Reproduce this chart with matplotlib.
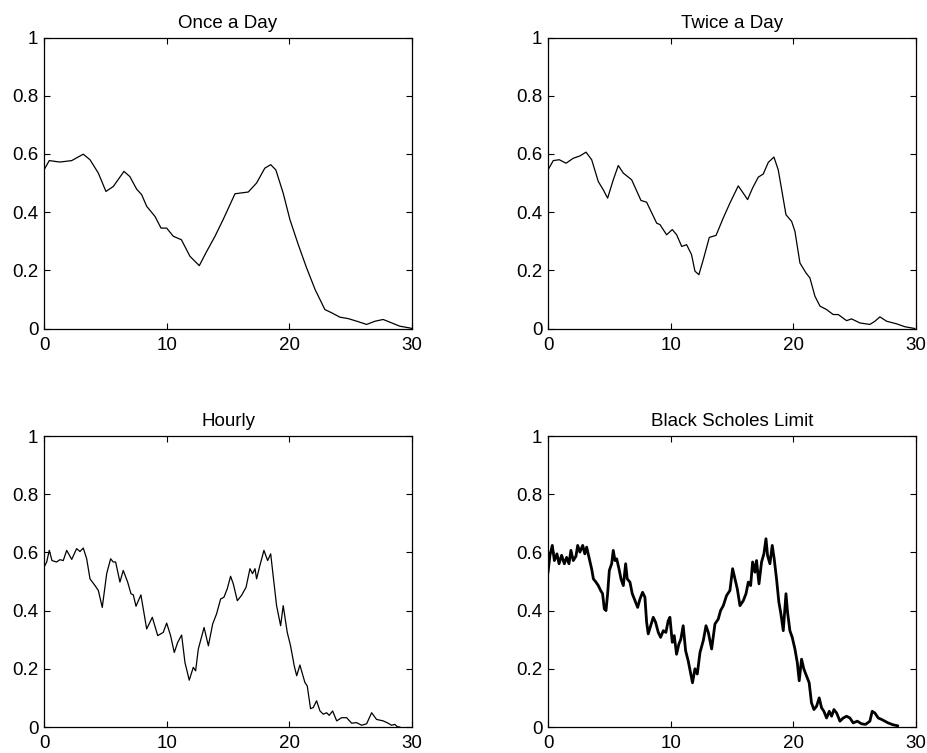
import matplotlib
matplotlib.use("Agg")
import matplotlib.pyplot as plt

plt.rcParams['font.family'] = ['Liberation Sans', 'DejaVu Sans']

# ---- once a day ----
day1_x = [0, 0.43, 1.3, 2.26, 3.2, 3.75, 4.43, 5.05, 5.65, 6.52, 7.0, 7.55, 7.96,
          8.37, 9.05, 9.54, 10.0, 10.54, 11.2, 11.9, 12.66, 13.2, 13.94, 14.6,
          15.57, 16.65, 17.33, 18.0, 18.48, 18.9, 19.5, 20.05, 20.73, 21.41, 22.1,
          22.9, 23.45, 24.12, 24.8, 25.5, 26.3, 26.98, 27.65, 28.3, 29.0, 29.8, 30]
day1_y = [0.545, 0.577, 0.572, 0.577, 0.599, 0.58, 0.534, 0.471, 0.488, 0.54, 0.522,
          0.479, 0.46, 0.42, 0.385, 0.345, 0.345, 0.317, 0.305, 0.248, 0.216, 0.26,
          0.317, 0.374, 0.463, 0.469, 0.5, 0.551, 0.563, 0.545, 0.465, 0.374, 0.288,
          0.208, 0.134, 0.065, 0.054, 0.039, 0.034, 0.025, 0.014, 0.025, 0.031,
          0.02, 0.008, 0.002, 0.0]

# ---- twice a day ----
day2_x = [0, 0.43, 0.92, 1.47, 2.06, 2.6, 3.1, 3.56, 4.1, 4.5, 4.86, 5.32, 5.73,
          6.14, 6.82, 7.58, 8.04, 8.86, 9.13, 9.67, 10.13, 10.49, 10.9, 11.3, 11.7,
          11.98, 12.3, 12.66, 13.15, 13.7, 14.29, 14.83, 15.51, 15.92, 16.27, 16.68,
          17.14, 17.55, 17.96, 18.42, 18.77, 19.05, 19.4, 19.86, 20.13, 20.54, 21.03,
          21.35, 21.76, 22.17, 22.71, 23.25, 23.66, 24.34, 24.75, 25.43, 26.24, 26.65,
          27.06, 27.6, 28.42, 29.1, 29.9]
day2_y = [0.545, 0.577, 0.58, 0.568, 0.585, 0.593, 0.606, 0.58, 0.505, 0.477, 0.448,
          0.511, 0.56, 0.534, 0.511, 0.44, 0.434, 0.362, 0.357, 0.322, 0.34, 0.322,
          0.282, 0.288, 0.254, 0.197, 0.185, 0.237, 0.313, 0.32, 0.38, 0.431, 0.49,
          0.465, 0.443, 0.483, 0.52, 0.531, 0.571, 0.589, 0.545, 0.477, 0.391, 0.368,
          0.334, 0.225, 0.191, 0.174, 0.111, 0.077, 0.065, 0.048, 0.048, 0.027, 0.033,
          0.019, 0.014, 0.025, 0.04, 0.025, 0.016, 0.006, 0.0]

# ---- hourly ----
hour_x = [0, 0.22, 0.43, 0.65, 1.03, 1.3, 1.57, 1.85, 2.26, 2.66, 2.93, 3.2, 3.48,
          3.75, 4.16, 4.43, 4.75, 5.11, 5.43, 5.65, 5.84, 6.19, 6.46, 6.82, 7.09,
          7.28, 7.5, 7.9, 8.37, 8.83, 9.27, 9.72, 10.0, 10.32, 10.62, 10.9, 11.22,
          11.49, 11.84, 12.17, 12.36, 12.58, 13.05, 13.4, 13.75, 14.07, 14.4, 14.67,
          14.94, 15.21, 15.43, 15.76, 16.1, 16.47, 16.79, 17.0, 17.2, 17.33, 17.6,
          17.93, 18.23, 18.48, 18.74, 18.96, 19.29, 19.5, 19.83, 20.1, 20.4, 20.6,
          20.86, 21.27, 21.46, 21.73, 21.95, 22.22, 22.5, 22.77, 23.04, 23.25, 23.53,
          23.86, 24.26, 24.67, 25.08, 25.48, 25.89, 26.3, 26.71, 27.11, 27.65, 28.06,
          28.33, 28.6, 28.8, 29.0]
hour_y = [0.549, 0.567, 0.607, 0.572, 0.567, 0.575, 0.572, 0.607, 0.576, 0.613, 0.603,
          0.615, 0.578, 0.509, 0.486, 0.469, 0.411, 0.527, 0.578, 0.567, 0.567, 0.498,
          0.538, 0.498, 0.458, 0.454, 0.415, 0.454, 0.337, 0.377, 0.314, 0.325, 0.357,
          0.314, 0.256, 0.291, 0.316, 0.222, 0.161, 0.205, 0.193, 0.268, 0.342, 0.279,
          0.354, 0.389, 0.44, 0.446, 0.475, 0.518, 0.492, 0.434, 0.452, 0.48, 0.544,
          0.527, 0.544, 0.509, 0.555, 0.607, 0.572, 0.595, 0.498, 0.417, 0.348, 0.417,
          0.325, 0.279, 0.21, 0.176, 0.213, 0.153, 0.141, 0.063, 0.067, 0.09, 0.055,
          0.044, 0.049, 0.04, 0.055, 0.021, 0.032, 0.032, 0.013, 0.015, 0.006, 0.011,
          0.049, 0.026, 0.021, 0.013, 0.006, 0.009, 0.001, 0.0]

# ---- black scholes limit ----
bs_x = [0, 0.16, 0.35, 0.52, 0.73, 0.9, 1.11, 1.33, 1.52, 1.71, 1.87, 2.06, 2.28,
        2.42, 2.6, 2.83, 3.0, 3.15, 3.37, 3.56, 3.7, 3.91, 4.1, 4.29, 4.45, 4.59,
        4.73, 4.86, 5.0, 5.19, 5.32, 5.46, 5.6, 5.79, 5.95, 6.14, 6.33, 6.46, 6.68,
        6.87, 7.09, 7.31, 7.5, 7.71, 7.9, 8.04, 8.17, 8.37, 8.58, 8.77, 8.99, 9.18,
        9.4, 9.61, 9.8, 9.94, 10.13, 10.29, 10.48, 10.67, 10.83, 11.02, 11.22, 11.43,
        11.62, 11.78, 11.98, 12.17, 12.39, 12.66, 12.88, 13.07, 13.34, 13.61, 13.88,
        14.07, 14.29, 14.56, 14.83, 15.05, 15.24, 15.43, 15.65, 15.92, 16.14, 16.33,
        16.52, 16.68, 16.87, 17.0, 17.2, 17.41, 17.6, 17.77, 17.9, 18.09, 18.28, 18.44,
        18.63, 18.82, 18.99, 19.18, 19.4, 19.53, 19.72, 19.91, 20.13, 20.32, 20.48,
        20.67, 20.86, 21.08, 21.29, 21.48, 21.68, 21.89, 22.11, 22.3, 22.49, 22.71,
        22.93, 23.12, 23.31, 23.53, 23.8, 24.07, 24.34, 24.61, 24.88, 25.21, 25.56,
        25.89, 26.24, 26.43, 26.65, 26.92, 27.19, 27.46, 27.73, 28.1, 28.5]
bs_y = [0.532, 0.59, 0.624, 0.572, 0.595, 0.561, 0.59, 0.561, 0.583, 0.561, 0.607,
        0.572, 0.587, 0.624, 0.601, 0.624, 0.595, 0.618, 0.578, 0.543, 0.509, 0.498,
        0.486, 0.469, 0.458, 0.406, 0.4, 0.458, 0.538, 0.561, 0.607, 0.572, 0.578,
        0.543, 0.509, 0.486, 0.561, 0.509, 0.498, 0.458, 0.434, 0.411, 0.44, 0.463,
        0.446, 0.36, 0.32, 0.348, 0.377, 0.36, 0.325, 0.308, 0.331, 0.325, 0.365,
        0.377, 0.291, 0.314, 0.25, 0.285, 0.302, 0.348, 0.262, 0.227, 0.187, 0.152,
        0.2, 0.182, 0.256, 0.297, 0.348, 0.325, 0.268, 0.354, 0.371, 0.4, 0.417,
        0.452, 0.469, 0.544, 0.509, 0.475, 0.417, 0.434, 0.458, 0.498, 0.486, 0.567,
        0.532, 0.572, 0.492, 0.567, 0.595, 0.647, 0.589, 0.561, 0.624, 0.578, 0.509,
        0.429, 0.388, 0.331, 0.458, 0.394, 0.331, 0.308, 0.268, 0.222, 0.159, 0.233,
        0.199, 0.175, 0.152, 0.083, 0.06, 0.071, 0.1, 0.066, 0.054, 0.031, 0.054,
        0.037, 0.06, 0.048, 0.02, 0.031, 0.037, 0.031, 0.014, 0.02, 0.011, 0.009,
        0.02, 0.054, 0.048, 0.031, 0.026, 0.02, 0.014, 0.008, 0.004]

titles = ["Once a Day", "Twice a Day", "Hourly", "Black Scholes Limit"]
series = [(day1_x, day1_y, 0.9), (day2_x, day2_y, 0.9),
          (hour_x, hour_y, 0.9), (bs_x, bs_y, 2.0)]

W, H = 927, 753
fig = plt.figure(figsize=(W / 100, H / 100), dpi=100)
# axes boxes in pixels (left, top), all 368 x 291
boxes = [(44, 37.5), (548, 37.5), (44, 436), (548, 436)]

for (left, top), (xs, ys, lw), title in zip(boxes, series, titles):
    ax = fig.add_axes([left / W, 1 - (top + 291) / H, 368 / W, 291 / H])
    ax.plot(xs, ys, color='black', linewidth=lw, solid_joinstyle='round')
    ax.set_xlim(0, 30)
    ax.set_ylim(0, 1)
    ax.set_xticks([0, 10, 20, 30])
    ax.set_yticks([0, 0.2, 0.4, 0.6, 0.8, 1])
    ax.set_yticklabels(["0", "0.2", "0.4", "0.6", "0.8", "1"])
    ax.tick_params(direction='in', top=True, right=True, length=4, width=0.8,
                   labelsize=13.5)
    ax.tick_params(axis='x', pad=6)
    ax.tick_params(axis='y', pad=4)
    for s in ax.spines.values():
        s.set_linewidth(0.9)
    ax.set_title(title, fontsize=13.5, pad=7)

plt.savefig("out.png", dpi=100)
